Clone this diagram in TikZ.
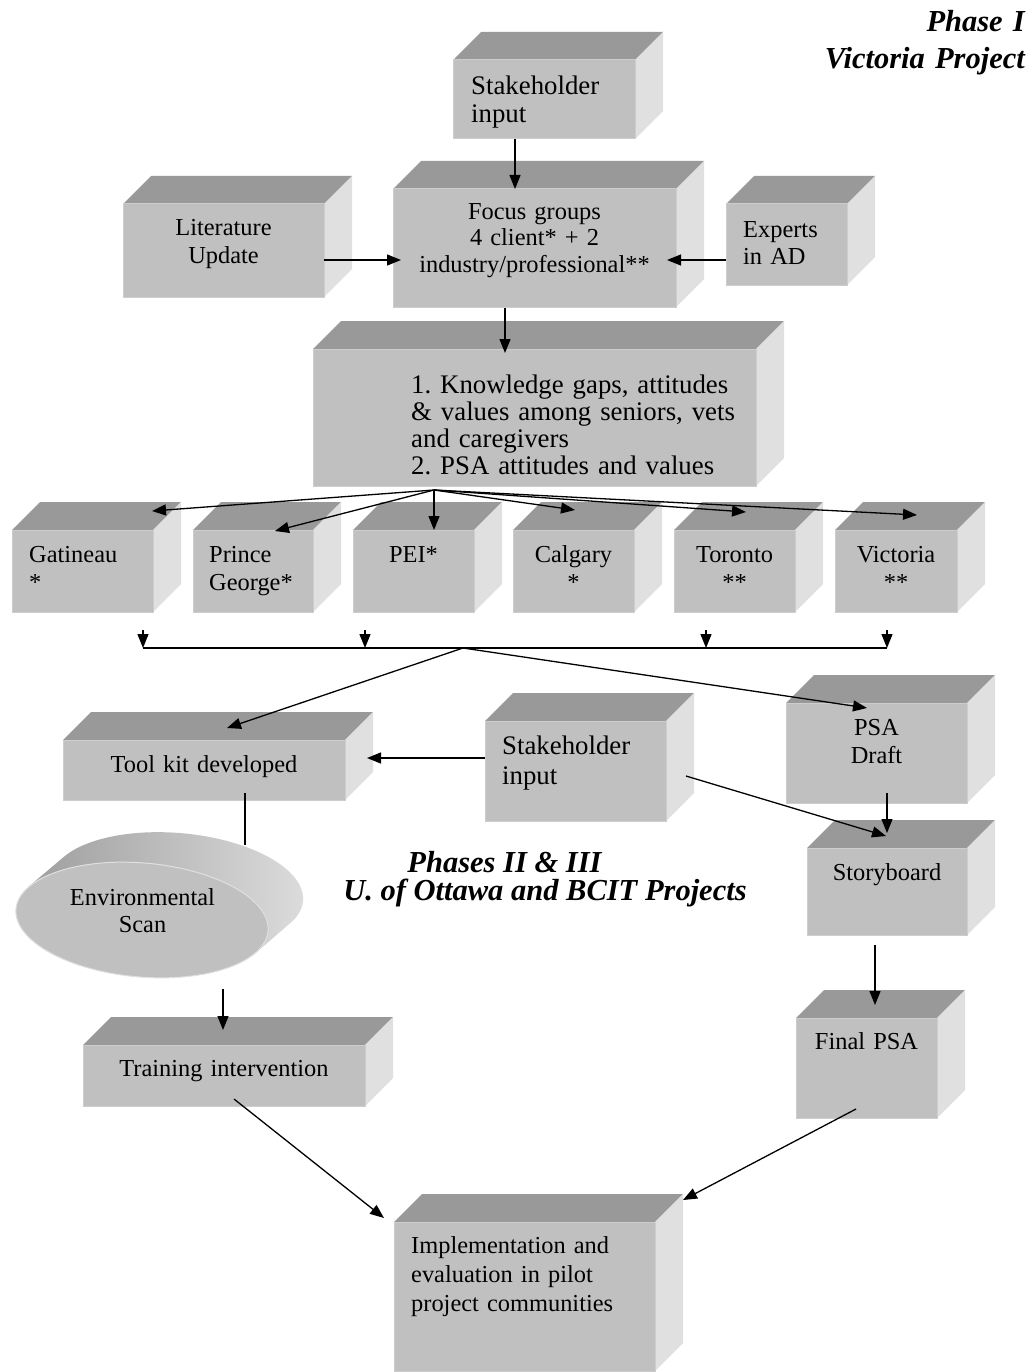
\documentclass[tikz,border=0pt]{standalone}
\usepackage{fontspec}
\setmainfont{Liberation Serif}
\usetikzlibrary{arrows.meta,fit,shapes.geometric}
\definecolor{topgray}{HTML}{999999}
\definecolor{sidegray}{HTML}{E0E0E0}
\definecolor{frontgray}{HTML}{C0C0C0}
\definecolor{edgegray}{HTML}{CDCDCD}
\newcommand\cubebox[5]{%
  \fill[topf] (#2,#3) -- (#2+28,#3-28) -- (#4+28,#3-28) -- (#4,#3) -- cycle;
  \fill[sidef] (#4,#3) -- (#4+28,#3-28) -- (#4+28,#5-28) -- (#4,#5) -- cycle;
  \node[frontf, fit={(#2,#3) (#4,#5)}] (#1) {};
}
\begin{document}
\frenchspacing
\begin{tikzpicture}[x=1pt,y=-1pt,
  topf/.style={fill=topgray},
  sidef/.style={fill=sidegray},
  frontf/.style={fill=frontgray, draw=edgegray, line width=1pt, inner sep=0pt},
  conn/.style={line width=1.3pt, -{Triangle[length=14pt,width=11pt]}},
  plainline/.style={line width=1.3pt},
  txt/.style={inner sep=0pt, font=\fontsize{24.4}{28}\selectfont, text width=#1},
  txt/.default=300pt,
  bigtxt/.style={inner sep=0pt, font=\fontsize{26.8}{28}\selectfont, text width=#1},
  bigtxt/.default=300pt,
  phase/.style={inner sep=0pt, font=\fontsize{30.5}{37}\selectfont\bfseries\itshape}
]
\fill[white] (0,0) rectangle (1034,1372);
\useasboundingbox (0,0) rectangle (1034,1372);

% ---------- boxes ----------
\cubebox{sh1}{453}{60}{635}{139}
\cubebox{focus}{393}{189}{676}{307}
\cubebox{lit}{123}{204}{324}{297}
\cubebox{exp}{726}{204}{847}{285}
\cubebox{big}{313}{349}{756}{486}
\cubebox{gat}{12}{530}{153}{612}
\cubebox{pg}{193}{530}{313}{612}
\cubebox{pei}{353}{530}{474}{612}
\cubebox{cal}{513}{530}{634}{612}
\cubebox{tor}{674}{530}{795}{612}
\cubebox{vic}{835}{530}{957}{612}
\cubebox{tool}{63}{740}{345}{800}
\cubebox{sh2}{485}{721}{666}{821}
\cubebox{psa}{786}{703}{967}{803}
\cubebox{story}{807}{848}{967}{935}
\cubebox{final}{796}{1018}{937}{1118}
\cubebox{train}{83}{1045}{365}{1106}
\cubebox{impl}{394}{1222}{655}{1371}

% ---------- texts ----------
\node[bigtxt=170pt, align=left, anchor=base west] (tsh1) at (471,95) {Stakeholder\\input};
\node[txt=280pt, align=center, anchor=base, font=\fontsize{24.4}{26}\selectfont] (tfocus) at (534.5,220) {Focus groups\\4 client* + 2\\industry/professional**};
\node[txt=190pt, align=center, anchor=base] (tlit) at (223.5,236) {Literature\\Update};
\node[txt=110pt, align=left, anchor=base west] (texp) at (743,237) {Experts\\in AD};
\node[bigtxt=345pt, align=left, anchor=base west, font=\fontsize{26.8}{27.3}\selectfont] (tbig) at (411,393) {1. Knowledge gaps, attitudes\\\& values among seniors, vets\\and caregivers\\2. PSA attitudes and values};
\node[txt=120pt, align=left, anchor=base west] (tgat) at (29,562) {Gatineau\\{}*};
\node[txt=110pt, align=left, anchor=base west] (tpg) at (209,562) {Prince\\George*};
\node[txt=110pt, align=center, anchor=base] (tpei) at (413.5,562) {PEI*};
\node[txt=110pt, align=center, anchor=base] (tcal) at (573.5,562) {Calgary\\{}*};
\node[txt=110pt, align=center, anchor=base] (ttor) at (734.5,562) {Toronto\\{}**};
\node[txt=110pt, align=center, anchor=base] (tvic) at (896,562) {Victoria\\{}**};
\node[txt=270pt, align=center, anchor=base] (ttool) at (204,772) {Tool kit developed};
\node[bigtxt=170pt, align=left, anchor=base west, font=\fontsize{26.8}{30}\selectfont] (tsh2) at (502,754) {Stakeholder\\input};
\node[txt=170pt, align=center, anchor=base] (tpsa) at (876.5,735) {PSA\\Draft};
\node[txt=150pt, align=center, anchor=base] (tstory) at (887,880) {Storyboard};
\node[txt=135pt, align=center, anchor=base] (tfinal) at (866.5,1049) {Final PSA};
\node[txt=270pt, align=center, anchor=base] (ttrain) at (224,1076) {Training intervention};
\node[txt=240pt, align=left, anchor=base west, font=\fontsize{24.4}{29}\selectfont] (timpl) at (411,1253) {Implementation and\\evaluation in pilot\\project communities};

\node[phase, text width=300pt, align=right, anchor=base east] (phase1) at (1025,32) {Phase I\\Victoria Project};
\node[phase, anchor=base] (phase2a) at (504.5,872) {Phases II \& III};
\node[phase, anchor=base] (phase2b) at (545,900) {U. of Ottawa and BCIT Projects};

% ---------- connector end points ----------
\coordinate (sh1out) at (515,139);
\coordinate (focusin) at (515,189);
\coordinate (litout) at (324,260);
\coordinate (focusinL) at (401,260);
\coordinate (expout) at (726,260);
\coordinate (focusinR) at (667,260);
\coordinate (focusout) at (505,308);
\coordinate (bigin) at (505,353);
\coordinate (fan) at (434,490);
\coordinate (gatin) at (152,511);
\coordinate (pgin) at (275,531);
\coordinate (peiin) at (434,530);
\coordinate (calin) at (575,510);
\coordinate (torin) at (746,512);
\coordinate (vicin) at (917,515);
\coordinate (gatout) at (143,630);
\coordinate (pgout) at (365,630);
\coordinate (torout) at (706,630);
\coordinate (vicout) at (887,630);
\coordinate (gatbus) at (143,648);
\coordinate (pgbus) at (365,648);
\coordinate (torbus) at (706,648);
\coordinate (vicbus) at (887,648);
\coordinate (busmid) at (463,648);
\coordinate (toolin) at (227,728);
\coordinate (psain) at (867,708);
\coordinate (sh2outL) at (485,758);
\coordinate (toolinR) at (367,758);
\coordinate (sh2outR) at (686,776);
\coordinate (storyin) at (886,836);
\coordinate (psaout) at (887,793);
\coordinate (storyinT) at (887,833);
\coordinate (storyout) at (875,945);
\coordinate (finalin) at (875,1005);
\coordinate (toolout) at (245,793);
\coordinate (envtop) at (245,845);
\coordinate (envout) at (223,989);
\coordinate (trainin) at (223,1030);
\coordinate (trainout) at (234,1099);
\coordinate (implinL) at (384,1218);
\coordinate (finalout) at (856,1109);
\coordinate (implinR) at (683,1200);

% ---------- environmental scan (extruded, slightly tilted ellipse) ----------
\draw[plainline] (toolout) -- (envtop);
\shade[left color=black!38, middle color=black!35, right color=black!14]
  plot[domain=203.7:383.7, samples=100]
   ({177+126.5*cos(\x)*cos(5)-57*sin(\x)*sin(5)},{890+126.5*cos(\x)*sin(5)+57*sin(\x)*cos(5)})
  -- (255.9,952.9) -- (28.1,887.1) -- cycle;
\node[ellipse, rotate=-5, fill=frontgray, draw=black!12, line width=1pt, inner sep=0pt,
      minimum width=253pt, minimum height=114pt] (env) at (142,920) {};
\node[txt=240pt, align=center, anchor=base, font=\fontsize{24.4}{27}\selectfont] (tenv) at (142.5,905) {Environmental\\Scan};

% ---------- connectors ----------
\draw[conn] (sh1out) -- (focusin);
\draw[conn] (litout) -- (focusinL);
\draw[conn] (expout) -- (focusinR);
\draw[conn] (focusout) -- (bigin);
\draw[conn] (fan) -- (gatin);
\draw[conn] (fan) -- (pgin);
\draw[conn] (fan) -- (peiin);
\draw[conn] (fan) -- (calin);
\draw[conn] (fan) -- (torin);
\draw[conn] (fan) -- (vicin);
\draw[conn] (gatout) -- (gatbus);
\draw[conn] (pgout) -- (pgbus);
\draw[conn] (torout) -- (torbus);
\draw[conn] (vicout) -- (vicbus);
\draw[plainline] (gatbus) -- (vicbus);
\draw[conn] (busmid) -- (toolin);
\draw[conn] (busmid) -- (psain);
\draw[conn] (sh2outL) -- (toolinR);
\draw[conn] (sh2outR) -- (storyin);
\draw[conn] (psaout) -- (storyinT);
\draw[conn] (storyout) -- (finalin);
\draw[conn] (envout) -- (trainin);
\draw[conn] (trainout) -- (implinL);
\draw[conn] (finalout) -- (implinR);
\end{tikzpicture}
\end{document}
